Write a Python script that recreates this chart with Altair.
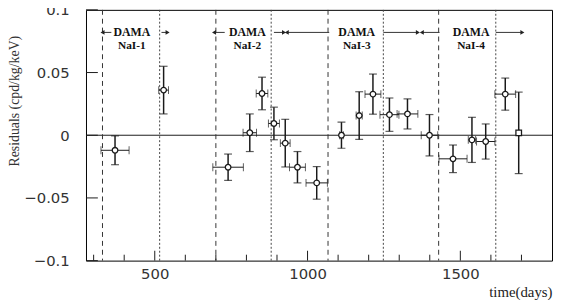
import altair as alt
import pandas as pd

# ---- data ----
days = [370, 529, 740, 811, 851, 890, 927, 967, 1030, 1111,
        1169, 1214, 1268, 1327, 1399, 1476, 1538, 1583, 1647, 1691]
resid = [-0.012, 0.036, -0.0255, 0.002, 0.0333, 0.0094, -0.0063, -0.0255, -0.038, 0.0,
         0.0157, 0.0328, 0.0164, 0.017, 0.0, -0.0188, -0.0037, -0.005, 0.0328, 0.0019]
yerr = [0.0115, 0.019, 0.0105, 0.015, 0.013, 0.013, 0.019, 0.0125, 0.013, 0.0104,
        0.019, 0.016, 0.0133, 0.012, 0.0165, 0.011, 0.018, 0.014, 0.0128, 0.0325]
xerr = [46, 16, 50, 22, 19, 18, 16, 26, 35, 6,
        10, 26, 31, 34, 27, 46, 12, 30, 34, 0]
markers = ["circle"] * 19 + ["square"]

dashed_lines = [329, 700, 1067, 1429]
dotted_lines = [516, 881, 1248, 1616]

period_labels = ["NaI-1", "NaI-2", "NaI-3", "NaI-4"]
period_centers = [425, 803, 1161, 1535]

arrow_from = [358, 522, 729, 890, 1071, 1248, 1432, 1616]
arrow_to = [329, 542, 694, 923, 932, 1361, 1374, 1703]

y_ticks = [-0.1, -0.05, 0, 0.05, 0.1]
x_major = [500, 1000, 1500]
x_minor = [300, 400, 600, 700, 800, 900, 1100, 1200, 1300, 1400, 1600, 1700]

X_DOMAIN = [275, 1800]
Y_DOMAIN = [-0.1, 0.1]
W, H = 472, 254

# ---- tables ----
pts = pd.DataFrame({"day": days, "res": resid, "yerr": yerr, "xerr": xerr, "mk": markers})
pts["ylo"] = pts["res"] - pts["yerr"]
pts["yhi"] = pts["res"] + pts["yerr"]
pts["xlo"] = pts["day"] - pts["xerr"]
pts["xhi"] = pts["day"] + pts["xerr"]

arrows = pd.DataFrame({"x0": arrow_from, "x1": arrow_to})
arrows["y"] = 0.082
arrows["shape"] = ["triangle-left" if b < a else "triangle-right" for a, b in zip(arrow_from, arrow_to)]

labels = pd.DataFrame({"x": period_centers, "lab": period_labels})

xs = alt.Scale(domain=X_DOMAIN, nice=False, zero=False)
ys = alt.Scale(domain=Y_DOMAIN, nice=False, zero=False)

INK = "#1a1a1a"

x_axis = alt.Axis(values=x_major, format="d", ticks=False, tickSize=0, domain=False, grid=False,
                  labelFont="DejaVu Sans", labelFontSize=15, labelColor="#333",
                  labelPadding=6, title="time(days)", titleFont="Liberation Serif",
                  titleFontSize=15, titleFontWeight="normal", titleColor="#222",
                  titleAlign="right", titleAnchor="end", titleX=W, titleY=31,
                  titleBaseline="middle")
y_axis = alt.Axis(values=y_ticks, format="~g", ticks=False, tickSize=0, domain=False, grid=False,
                  labelFont="DejaVu Sans", labelFontSize=15, labelColor="#333",
                  labelPadding=17, title="Residuals (cpd/kg/keV)", titleFont="Liberation Serif",
                  titleFontSize=14, titleFontWeight="normal", titleColor="#333",
                  titleX=-72, titleY=92, titleAlign="center", titleBaseline="middle",
                  titleAngle=270)

base_pts = alt.Chart(pts)

# axis carrier + vertical error bars
verr = base_pts.mark_rule(color=INK, strokeWidth=1.5).encode(
    x=alt.X("day:Q", scale=xs, axis=x_axis),
    y=alt.Y("ylo:Q", scale=ys, axis=y_axis),
    y2="yhi:Q",
)
cap_lo = base_pts.mark_tick(color=INK, orient="horizontal", size=8, thickness=1.2).encode(
    x="day:Q", y="ylo:Q")
cap_hi = base_pts.mark_tick(color=INK, orient="horizontal", size=8, thickness=1.2).encode(
    x="day:Q", y="yhi:Q")
herr = base_pts.mark_rule(color=INK, strokeWidth=1).encode(
    x="xlo:Q", x2="xhi:Q", y="res:Q")
xcap_lo = base_pts.mark_tick(color=INK, orient="vertical", size=8, thickness=1).encode(
    x="xlo:Q", y="res:Q")
xcap_hi = base_pts.mark_tick(color=INK, orient="vertical", size=8, thickness=1).encode(
    x="xhi:Q", y="res:Q")
points = base_pts.mark_point(filled=True, fill="white", stroke=INK, strokeWidth=1.3, opacity=1).encode(
    x="day:Q", y="res:Q",
    shape=alt.Shape("mk:N", scale=None),
    size=alt.value(32),
)

zero_line = alt.Chart(pd.DataFrame({"y": [0]})).mark_rule(color=INK, strokeWidth=1).encode(y="y:Q")

dashed = alt.Chart(pd.DataFrame({"x": dashed_lines})).mark_rule(
    color="#333", strokeWidth=1, strokeDash=[5, 4]).encode(x="x:Q")
dotted = alt.Chart(pd.DataFrame({"x": dotted_lines})).mark_rule(
    color="#444", strokeWidth=1, strokeDash=[2, 2]).encode(x="x:Q")

arrow_lines = alt.Chart(arrows).mark_rule(color="#333", strokeWidth=1).encode(
    x="x0:Q", x2="x1:Q", y="y:Q")
arrow_heads = alt.Chart(arrows).mark_point(filled=True, color="#222", opacity=1).encode(
    x="x1:Q", y="y:Q", shape=alt.Shape("shape:N", scale=None), size=alt.value(22))

dama_txt = alt.Chart(labels).mark_text(
    font="Liberation Serif", fontSize=12, fontWeight="bold", color="#111", baseline="middle").encode(
    x="x:Q", y=alt.datum(0.0825), text=alt.value("DAMA"))
nai_txt = alt.Chart(labels).mark_text(
    font="Liberation Serif", fontSize=11.5, fontWeight="bold", color="#111", baseline="middle").encode(
    x="x:Q", y=alt.datum(0.0712), text="lab:N")

ytick_marks = alt.Chart(pd.DataFrame({"v": y_ticks})).mark_rule(color=INK, strokeWidth=1).encode(
    y="v:Q", x=alt.value(0), x2=alt.value(12))
xmaj_marks = alt.Chart(pd.DataFrame({"v": x_major})).mark_rule(color=INK, strokeWidth=1).encode(
    x="v:Q", y=alt.value(H), y2=alt.value(H - 10))
xmin_marks = alt.Chart(pd.DataFrame({"v": x_minor})).mark_rule(color=INK, strokeWidth=1).encode(
    x="v:Q", y=alt.value(H), y2=alt.value(H - 6))

chart = alt.layer(
    verr, zero_line, dashed, dotted, ytick_marks, xmaj_marks, xmin_marks,
    arrow_lines, arrow_heads, dama_txt, nai_txt,
    herr, xcap_lo, xcap_hi, cap_lo, cap_hi, points,
).properties(
    width=W, height=H,
    autosize=alt.AutoSizeParams(type="none"),
    padding={"left": 79, "top": 0, "right": 1, "bottom": 38},
    background="white",
).configure_view(stroke="black", strokeWidth=1)

chart.save("out.html", embed_options={"renderer": "svg", "actions": False})
